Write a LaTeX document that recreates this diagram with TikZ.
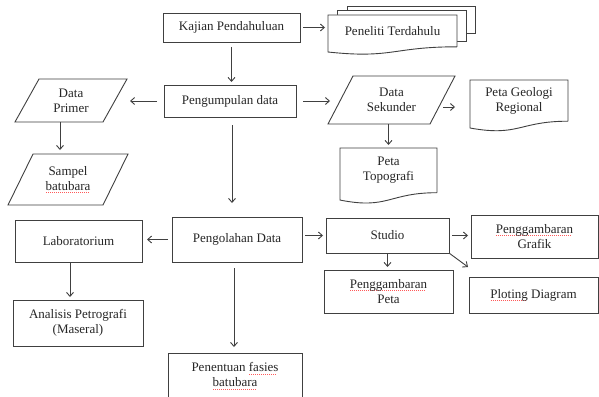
\documentclass[tikz,border=0pt]{standalone}
\usepackage{fontspec}
\setmainfont{Liberation Serif}
\usetikzlibrary{arrows.meta,calc}
\pgfdeclarelayer{background}
\pgfsetlayers{background,main}
\newsavebox\spellbox
\newcommand\spellmark[1]{\sbox\spellbox{#1}\rlap{\textcolor{red!65}{\hbox to\wd\spellbox{\leaders\hbox to 2pt{\hss\rule[-2.6pt]{1pt}{0.6pt}\hss}\hfill}}}\usebox\spellbox}
\tikzset{
  txt/.style={font=\fontsize{13}{15}\selectfont, align=center, inner sep=0pt, outer sep=0pt, text=black!85},
  boxn/.style={txt, draw=black!75, line width=0.9pt, rectangle},
  shp/.style={draw=black!75, line width=0.9pt, fill=white, line join=miter},
  arr/.style={draw=black!75, line width=0.9pt, -{Straight Barb[length=4pt,width=7pt]}},
}
\begin{document}
\begin{tikzpicture}[x=1pt,y=-1pt]
\useasboundingbox (0,0) rectangle (599,396);
% nodes
\node[boxn,minimum width=137pt,minimum height=29pt] (kaj) at (231.5,27.5) {Kajian Pendahuluan};
\node[txt,minimum width=129pt,minimum height=31.8pt] (pen) at (392.5,30.9) {Peneliti Terdahulu};
\node[boxn,minimum width=132pt,minimum height=32pt] (pgm) at (230,101) {Pengumpulan data};
\node[txt,minimum width=112pt,minimum height=43pt] (pri) at (71,100.5) {Data\\Primer};
\node[txt,minimum width=120pt,minimum height=51pt] (sam) at (68,179.5) {Sampel\\\spellmark{batubara}};
\node[txt,minimum width=127pt,minimum height=48pt] (sek) at (391.5,100) {Data\\Sekunder};
\node[txt,minimum width=98pt,minimum height=41.2pt] (geo) at (519,100.6) {Peta Geologi\\Regional};
\node[txt,minimum width=97pt,minimum height=44.7pt] (topo) at (388.5,170.35) {Peta\\Topografi};
\node[boxn,minimum width=130pt,minimum height=45pt] (olah) at (237,239.5) {Pengolahan Data};
\node[boxn,minimum width=127pt,minimum height=42pt] (lab) at (78.5,241) {Laboratorium};
\node[boxn,minimum width=130pt,minimum height=46pt] (ana) at (78,323) {Analisis Petrografi\\(Maseral)};
\node[boxn,minimum width=134pt,minimum height=46pt] (ten) at (235,376) {Penentuan \spellmark{fasies}\\\spellmark{batubara}};
\node[boxn,minimum width=123pt,minimum height=35pt] (stu) at (387.5,235.5) {Studio};
\node[boxn,minimum width=127pt,minimum height=43pt] (gra) at (534.5,236.5) {\spellmark{Penggambaran}\\Grafik};
\node[boxn,minimum width=129pt,minimum height=43pt] (gpe) at (388.5,291.5) {\spellmark{Penggambaran}\\Peta};
\node[boxn,minimum width=129pt,minimum height=36pt] (plo) at (533.5,295) {\spellmark{Ploting} Diagram};
% shapes
\begin{pgfonlayer}{background}
  \fill[white] (0,0) rectangle (599,396);
  \draw[shp] ([shift={(19,-9)}]pen.north west) rectangle ([shift={(18,18)}]pen.north east);
  \draw[shp] ([shift={(9,-5)}]pen.north west) rectangle ([shift={(9,26)}]pen.north east);
  \draw[shp] (pen.south east) -- (pen.north east) -- (pen.north west) -- ([shift={(0,5.2)}]pen.south west)
     .. controls ([shift={(0,12.1)}]pen.south) and (pen.south) .. (pen.south east);
  \draw[shp] (geo.south east) -- (geo.north east) -- (geo.north west) -- ([shift={(0,6.8)}]geo.south west)
     .. controls ([shift={(0,15.7)}]geo.south) and (geo.south) .. (geo.south east);
  \draw[shp] (topo.south east) -- (topo.north east) -- (topo.north west) -- ([shift={(0,7.35)}]topo.south west)
     .. controls ([shift={(0,17)}]topo.south) and (topo.south) .. (topo.south east);
  \draw[shp] ([xshift=24pt]pri.north west) -- (pri.north east) -- ([xshift=-24pt]pri.south east) -- (pri.south west) -- cycle;
  \draw[shp] ([xshift=25pt]sam.north west) -- (sam.north east) -- ([xshift=-25pt]sam.south east) -- (sam.south west) -- cycle;
  \draw[shp] ([xshift=25pt]sek.north west) -- (sek.north east) -- ([xshift=-25pt]sek.south east) -- (sek.south west) -- cycle;
\end{pgfonlayer}
% connectors
\draw[arr,shorten <=5pt,shorten >=3pt] (kaj.south) -- (kaj.south |- pgm.north);
\draw[arr,shorten <=3pt,shorten >=3pt] (kaj.east) -- (kaj.east -| pen.west);
\draw[arr,shorten <=7pt,shorten >=3pt] (pgm.west) -- (pgm.west -| pri.east);
\draw[arr,shorten <=7pt,shorten >=-2pt] (pgm.east) -- (pgm.east -| sek.west);
\draw[arr,shorten >=3pt] ([shift={(-12,7)}]sek.east) -- ([shift={(-12,7)}]sek.east -| geo.west);
\draw[arr,shorten >=3pt] (sek.south -| topo.north) -- (topo.north);
\draw[arr,shorten >=4pt] ([xshift=-11pt]pri.south) -- ([xshift=-11pt]pri.south |- sam.north);
\draw[arr,shorten <=8pt,shorten >=14pt] ([xshift=2pt]pgm.south) -- ([xshift=2pt]pgm.south |- olah.north);
\draw[arr,shorten <=4pt,shorten >=5pt] (olah.west) -- (olah.west -| lab.east);
\draw[arr,shorten >=3pt] ([xshift=-8.5pt]lab.south) -- ([xshift=-8.5pt]lab.south |- ana.north);
\draw[arr,shorten <=6pt,shorten >=6pt] ([xshift=-3pt]olah.south) -- ([xshift=-3pt]olah.south |- ten.north);
\draw[arr,shorten <=3pt,shorten >=3pt] (olah.east |- stu.west) -- (stu.west);
\draw[arr,shorten <=3pt,shorten >=3pt] (stu.east) -- (stu.east -| gra.west);
\draw[arr,shorten >=3pt] (stu.south) -- (stu.south |- gpe.north);
\draw[arr] (stu.south east) -- ([shift={(-1,-10)}]plo.north west);
\end{tikzpicture}
\end{document}
